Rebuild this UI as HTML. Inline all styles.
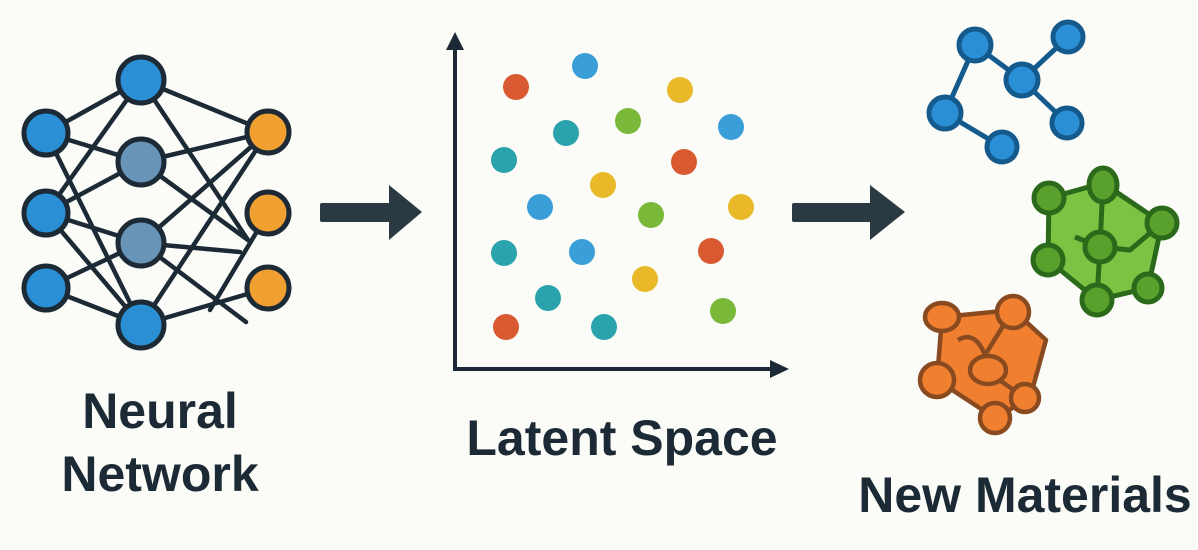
<!DOCTYPE html>
<html><head><meta charset="utf-8"><style>
html,body{margin:0;padding:0;background:#fbfbf8;}
svg{display:block}
text{font-family:"Liberation Sans",sans-serif;font-weight:bold;fill:#1c2a35}
</style></head><body>
<svg width="1198" height="550" viewBox="0 0 1198 550" xmlns="http://www.w3.org/2000/svg">
<rect width="1198" height="550" fill="#fbfbf8"/>
<g stroke="#1c2a35" stroke-width="4.5" stroke-linecap="round">
<line x1="46" y1="133" x2="141" y2="80"/><line x1="46" y1="133" x2="141" y2="162"/><line x1="46" y1="133" x2="141" y2="325"/>
<line x1="46" y1="213" x2="141" y2="80"/><line x1="46" y1="213" x2="141" y2="162"/><line x1="46" y1="213" x2="141" y2="243"/><line x1="46" y1="213" x2="141" y2="325"/>
<line x1="46" y1="288" x2="141" y2="243"/><line x1="46" y1="288" x2="141" y2="325"/>
<line x1="141" y1="80" x2="268" y2="132"/><line x1="141" y1="80" x2="248" y2="240"/>
<line x1="141" y1="162" x2="268" y2="132"/><line x1="141" y1="162" x2="248" y2="240"/>
<line x1="141" y1="243" x2="268" y2="132"/><line x1="141" y1="243" x2="240" y2="252"/><line x1="141" y1="243" x2="246" y2="322"/>
<line x1="141" y1="325" x2="268" y2="132"/><line x1="141" y1="325" x2="268" y2="288"/><line x1="210" y1="310" x2="268" y2="213"/>
</g>
<g stroke="#1c2a35" stroke-width="5">
<circle cx="46" cy="133" r="22" fill="#2a8fd4"/><circle cx="46" cy="213" r="22" fill="#2a8fd4"/><circle cx="46" cy="288" r="22" fill="#2a8fd4"/>
<circle cx="141" cy="80" r="23" fill="#2a8fd4"/><circle cx="141" cy="162" r="23" fill="#6894b8"/><circle cx="141" cy="243" r="23" fill="#6894b8"/><circle cx="141" cy="325" r="23" fill="#2a8fd4"/>
<circle cx="268" cy="132" r="21" fill="#f0a030"/><circle cx="268" cy="213" r="21" fill="#f0a030"/><circle cx="268" cy="288" r="21" fill="#f0a030"/>
</g>
<g fill="#2b3a42">
<rect x="320" y="203" width="72" height="19" rx="2"/><polygon points="389,185 422,212 389,240"/>
<rect x="792" y="203" width="80" height="19" rx="2"/><polygon points="870,185 905,212 870,240"/>
</g>
<g stroke="#1c2a35" stroke-width="4" fill="none"><path d="M455,38 V369 H782"/></g>
<polygon points="446,50 455,32 464,50" fill="#1c2a35"/><polygon points="770,360 789,369 770,378" fill="#1c2a35"/>
<g>
<circle cx="516" cy="87" r="13" fill="#d95a30"/><circle cx="585" cy="66" r="13" fill="#3a9fd8"/><circle cx="680" cy="90" r="13" fill="#eab92a"/>
<circle cx="628" cy="121" r="13" fill="#7ab83a"/><circle cx="566" cy="133" r="13" fill="#2aa3ad"/><circle cx="731" cy="127" r="13" fill="#3a9fd8"/>
<circle cx="504" cy="160" r="13" fill="#2aa3ad"/><circle cx="684" cy="162" r="13" fill="#d95a30"/><circle cx="603" cy="185" r="13" fill="#eab92a"/>
<circle cx="540" cy="207" r="13" fill="#3a9fd8"/><circle cx="651" cy="215" r="13" fill="#7ab83a"/><circle cx="741" cy="207" r="13" fill="#eab92a"/>
<circle cx="504" cy="253" r="13" fill="#2aa3ad"/><circle cx="582" cy="252" r="13" fill="#3a9fd8"/><circle cx="711" cy="251" r="13" fill="#d95a30"/>
<circle cx="645" cy="279" r="13" fill="#eab92a"/><circle cx="548" cy="298" r="13" fill="#2aa3ad"/><circle cx="723" cy="311" r="13" fill="#7ab83a"/>
<circle cx="506" cy="327" r="13" fill="#d95a30"/><circle cx="604" cy="327" r="13" fill="#2aa3ad"/>
</g>
<g stroke="#145a8c" stroke-width="5">
<line x1="975" y1="45" x2="1022" y2="80"/><line x1="1022" y1="80" x2="1068" y2="37"/><line x1="1022" y1="80" x2="1067" y2="123"/>
<line x1="975" y1="45" x2="945" y2="113"/><line x1="945" y1="113" x2="1002" y2="147"/>
<g fill="#2a8fd4"><circle cx="975" cy="45" r="16"/><circle cx="1068" cy="37" r="15"/><circle cx="1022" cy="80" r="16"/><circle cx="945" cy="113" r="16"/><circle cx="1002" cy="147" r="15"/><circle cx="1067" cy="123" r="15"/></g>
</g>
<g stroke="#2a6a1a" stroke-width="5" stroke-linejoin="round">
<polygon points="1049,198 1103,183 1162,223 1148,288 1097,300 1048,260" fill="#7dc242"/>
<line x1="1103" y1="183" x2="1100" y2="247"/><line x1="1100" y1="247" x2="1097" y2="300"/><path d="M1075,237 L1100,247 L1130,250 L1162,223" fill="none"/>
<g fill="#5aa02c"><circle cx="1049" cy="198" r="15"/><ellipse cx="1103" cy="185" rx="14" ry="17"/><circle cx="1162" cy="223" r="15"/><circle cx="1048" cy="260" r="15"/><circle cx="1097" cy="300" r="15"/><circle cx="1148" cy="288" r="14"/><circle cx="1100" cy="247" r="15"/></g>
</g>
<g stroke="#8a4a20" stroke-width="4.5" stroke-linejoin="round">
<polygon points="942,317 1013,310 1046,340 1030,398 995,418 937,380" fill="#f07f30"/>
<path d="M958,340 Q975,330 985,355 L1013,310 M988,372 L1025,398" fill="none"/>
<g fill="#f07f30"><ellipse cx="942" cy="317" rx="17" ry="14"/><circle cx="1013" cy="312" r="16"/><circle cx="937" cy="380" r="17"/><ellipse cx="988" cy="370" rx="18" ry="14"/><circle cx="1025" cy="398" r="14"/><circle cx="995" cy="418" r="15"/></g>
</g>
<text x="160" y="428" font-size="50" text-anchor="middle">Neural</text>
<text x="160" y="491" font-size="50" text-anchor="middle">Network</text>
<text x="622" y="455" font-size="50" text-anchor="middle">Latent Space</text>
<text x="1025" y="512" font-size="50" text-anchor="middle">New Materials</text>
</svg>
</body></html>
